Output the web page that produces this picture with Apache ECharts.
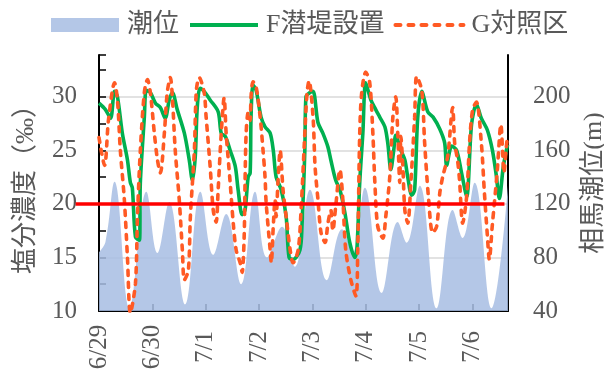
<!DOCTYPE html>
<html>
<head>
<meta charset="utf-8">
<script src="https://cdn.jsdelivr.net/npm/echarts@6/dist/echarts.min.js"></script>
<style>
  html, body { margin: 0; padding: 0; background: #ffffff; }
  #chart { width: 604px; height: 374px; }
</style>
</head>
<body>
<div id="chart"></div>
<script>
// Day labels placed at midnight of each day (x axis is in hours from 6/29 00:00)
const dayLabels = ['6/29', '6/30', '7/1', '7/2', '7/3', '7/4', '7/5', '7/6'];

// Soma tide level [hour, level]
const tideReadings = [
  [0, 84], [2.9, 91.6], [7.0, 136.5], [13.7, 42], [21.3, 129],
  [26.3, 83.4], [31.6, 121.5], [38.8, 45], [45.6, 129],
  [51.4, 82], [57.2, 112.5], [64.0, 60], [70.2, 129],
  [75.6, 80], [82.4, 103], [88.2, 73], [94.9, 130.5],
  [102.5, 63], [109.3, 101], [114.2, 84], [119.6, 132],
  [127.2, 53.5], [134.4, 106.5], [138.4, 91], [144.3, 133.5],
  [151.9, 42], [159.1, 115.5], [163.6, 94.6], [169.0, 135.7],
  [176.6, 42], [184, 133.5]
];

// Salinity with submerged breakwater (F) [hour, ‰]
const fReadings = [
  [0, 29.4], [2.9, 28.8], [5.2, 28.0], [7.0, 30.5], [8.3, 30.0], [10.5, 26.6],
  [12.8, 24.1], [14.1, 22.0], [15.0, 21.5], [16.4, 16.9], [18.2, 16.6], [18.6, 22.0],
  [20.4, 28.1], [21.3, 30.6], [23.1, 30.4],
  [25.4, 29.4], [27.6, 29.0], [29.8, 28.0], [31.6, 29.7], [33.0, 30.4], [35.2, 28.8],
  [38.4, 26.6], [40.6, 24.1], [42.0, 22.2], [43.3, 24.4], [44.2, 29.0], [45.5, 30.8],
  [47.3, 30.5],
  [50.0, 29.7], [53.6, 28.6], [55.0, 26.6], [56.8, 26.3], [59.0, 25.0], [61.3, 23.5],
  [62.6, 21.3], [64.4, 19.0], [65.7, 19.4], [67.1, 22.5], [68.0, 22.9], [68.4, 28.1],
  [69.3, 31.1], [70.7, 30.6],
  [72.9, 28.1], [74.7, 27.2], [77.0, 26.6], [78.4, 25.0], [79.7, 22.5], [82.0, 21.3],
  [84.2, 18.8], [85.5, 15.0], [87.3, 14.8], [90.4, 15.7], [91.3, 17.9], [92.6, 25.0],
  [93.1, 30.0], [94.9, 30.4],
  [96.3, 30.5], [98.5, 27.6], [100.7, 26.6], [103.0, 25.3], [104.3, 24.1], [106.5, 22.2],
  [108.4, 21.3], [110.6, 19.2], [112.8, 16.4], [115.1, 15.0], [116.0, 15.7], [117.3, 22.0],
  [118.7, 26.6],
  [120.0, 31.3], [122.3, 29.7], [124.5, 28.8], [126.3, 28.1], [128.6, 27.2], [129.9, 25.7],
  [131.3, 23.2], [132.6, 25.0], [133.5, 26.4], [135.8, 25.0], [137.6, 24.1], [138.9, 22.5],
  [140.7, 20.8], [142.0, 21.3], [143.4, 28.1],
  [145.2, 30.5], [147.9, 28.6], [150.3, 28.1], [153.3, 27.0], [155.5, 25.7], [156.4, 23.6],
  [158.7, 25.4], [160.9, 25.0], [163.1, 22.9], [165.4, 20.7], [167.6, 27.4],
  [169.8, 29.3], [172.0, 28.0], [174.7, 26.9], [177.0, 25.0], [178.7, 22.7], [180.1, 20.5],
  [181.9, 23.5], [183.8, 25.5]
];

// Salinity at the control site (G) [hour, ‰]
const gReadings = [
  [0, 26.2], [2.5, 23.6], [4.3, 27.9], [7.0, 31.3], [8.3, 29.7], [9.6, 25.0],
  [11.4, 20.4], [12.8, 15.0], [14.1, 9.8], [16.4, 12.6], [17.3, 18.8], [18.6, 25.0],
  [20.4, 30.4], [21.8, 31.6], [23.1, 30.4],
  [24.9, 26.6], [26.3, 24.1], [27.6, 22.9], [29.4, 26.6], [30.7, 30.4], [32.1, 31.8],
  [33.0, 30.0], [34.3, 25.0], [36.1, 20.4], [37.5, 15.7], [38.4, 12.9], [40.2, 13.8],
  [41.1, 18.8], [42.9, 25.0], [43.8, 30.6], [45.1, 31.8], [47.3, 30.4],
  [48.2, 28.1], [50.0, 23.5], [51.4, 19.4], [52.7, 18.3], [53.6, 21.3], [55.0, 26.6],
  [56.3, 29.9], [57.2, 26.6], [59.0, 22.0], [60.4, 18.2], [61.7, 15.7], [63.5, 14.5],
  [64.4, 13.6], [65.3, 16.9], [65.7, 22.0], [66.2, 26.6], [67.1, 28.5], [68.0, 27.8],
  [68.4, 30.0], [69.3, 31.4], [70.7, 30.9],
  [72.5, 28.1], [73.8, 25.0], [74.7, 22.5], [75.2, 20.1], [77.0, 15.7], [77.5, 14.5],
  [78.4, 17.9], [79.2, 20.4], [79.7, 18.8], [80.5, 22.0], [81.5, 25.0], [82.8, 21.3],
  [84.2, 18.8], [86.0, 15.7], [87.3, 14.5], [89.6, 15.7], [90.9, 19.4], [92.6, 26.6],
  [93.6, 30.4], [94.5, 31.5],
  [96.3, 28.1], [97.2, 23.5], [98.5, 20.4], [99.9, 17.3], [101.7, 16.4], [103.0, 18.2],
  [104.3, 19.4], [105.2, 17.5], [106.5, 19.8], [108.4, 23.2], [109.7, 20.4], [111.0, 15.7],
  [113.3, 12.9], [115.6, 11.4], [116.4, 15.7], [117.3, 26.6], [118.2, 30.4],
  [120.0, 32.3], [121.8, 31.3], [123.2, 26.6], [124.1, 22.0], [125.4, 17.9], [127.7, 16.8],
  [129.0, 18.8], [130.8, 22.5], [132.2, 28.1], [133.5, 30.0], [134.4, 26.6], [135.3, 22.0],
  [135.8, 26.3], [136.7, 23.5], [137.6, 19.4], [138.9, 18.2], [140.3, 22.0], [142.0, 28.1],
  [142.9, 31.9],
  [145.2, 30.6], [146.5, 25.7], [148.3, 20.4], [150.1, 17.3], [151.9, 17.9], [153.3, 21.0],
  [154.6, 22.5], [156.9, 24.5], [159.1, 29.0], [160.0, 25.7], [161.3, 24.1], [162.2, 22.2],
  [163.6, 18.2], [165.4, 20.7], [166.7, 25.7],
  [168.1, 28.8], [169.8, 29.5], [172.0, 25.7], [173.4, 21.0], [174.7, 17.1], [175.6, 14.8],
  [176.9, 17.9], [179.1, 22.9], [180.8, 27.4], [182.2, 22.9], [183.1, 25.0], [183.6, 26.0]
];

// 20‰ reference level and the hour span it is drawn over
const thresholdSalinity = 20;
const thresholdSpan = [-10.5, 182.4];

const seriesNames = ['潮位', 'F潜堤設置', 'G対照区'];

const TEXT = '#595959';
const FONT = '"Liberation Serif", "Times New Roman", "Noto Sans CJK JP", serif';
const GREEN = '#00b050';
const ORANGE = '#ff5a24';

const chart = echarts.init(document.getElementById('chart'), null, { renderer: 'canvas' });

chart.setOption({
  animation: false,
  backgroundColor: '#ffffff',
  textStyle: { fontFamily: FONT, color: TEXT },
  grid: { left: 99, right: 96, top: 55, bottom: 63, containLabel: false, outerBoundsMode: 'none' },
  legend: {
    top: 7,
    left: 46,
    itemWidth: 68,
    itemHeight: 14,
    itemGap: 9,
    textStyle: { fontFamily: FONT, fontSize: 26, color: TEXT, padding: [0, 0, 0, 3] },
    data: [
      { name: seriesNames[0], icon: 'rect', itemStyle: { color: '#b4c7e7' } },
      { name: seriesNames[1], itemStyle: { opacity: 0 }, lineStyle: { width: 4, color: GREEN } },
      { name: seriesNames[2], itemStyle: { opacity: 0 }, lineStyle: { width: 4, color: ORANGE, type: [5, 8], cap: 'round' } }
    ]
  },
  xAxis: {
    type: 'value',
    min: 0,
    max: 184,
    interval: 24,
    axisLine: { show: true, onZero: false, lineStyle: { color: '#000', width: 2 } },
    axisTick: { show: true, inside: true, length: 7, lineStyle: { color: '#000', width: 1.5 } },
    axisLabel: {
      rotate: 90,
      align: 'center',
      verticalAlign: 'middle',
      margin: 36,
      fontSize: 25,
      fontFamily: FONT,
      color: TEXT,
      showMaxLabel: false,
      formatter: v => (v % 24 === 0 ? dayLabels[v / 24] : '')
    },
    splitLine: { show: false }
  },
  yAxis: [
    {
      type: 'value',
      position: 'left',
      min: 10,
      max: 33.9,
      interval: 5,
      name: '塩分濃度（‰）',
      nameLocation: 'middle',
      nameRotate: 90,
      nameGap: 60,
      nameTextStyle: { fontFamily: FONT, fontSize: 26, color: TEXT },
      axisLine: { show: true, lineStyle: { color: '#000', width: 2 } },
      axisTick: { show: true, inside: true, length: 7, lineStyle: { color: '#000', width: 1.5 } },
      minorTick: { show: true, splitNumber: 2, length: 7, lineStyle: { color: '#000', width: 1.5 } },
      axisLabel: {
        margin: 22,
        fontSize: 25,
        fontFamily: FONT,
        color: TEXT,
        showMaxLabel: false,
        formatter: v => (v % 5 === 0 ? String(v) : '')
      },
      splitLine: { show: true, showMinLine: false, showMaxLine: false, lineStyle: { color: '#d9d9d9', width: 1.5 } }
    },
    {
      type: 'value',
      position: 'right',
      min: 40,
      max: 231.2,
      interval: 40,
      name: '相馬潮位(m)',
      nameLocation: 'middle',
      nameRotate: 90,
      nameGap: 66,
      nameTextStyle: { fontFamily: FONT, fontSize: 26, color: TEXT },
      axisLine: { show: true, lineStyle: { color: '#000', width: 2 } },
      axisTick: { show: false },
      axisLabel: {
        margin: 25,
        fontSize: 25,
        fontFamily: FONT,
        color: TEXT,
        showMaxLabel: false,
        formatter: v => (v % 40 === 0 ? String(v) : '')
      },
      splitLine: { show: false }
    }
  ],
  series: [
    {
      name: seriesNames[0],
      type: 'line',
      yAxisIndex: 1,
      data: tideReadings,
      smooth: 0.4,
      symbol: 'none',
      itemStyle: { color: '#b4c7e7' },
      lineStyle: { width: 0 },
      areaStyle: { color: '#a7bde3', opacity: 0.85 },
      z: 1
    },
    {
      name: seriesNames[1],
      type: 'line',
      yAxisIndex: 0,
      data: fReadings,
      smooth: 0.3,
      symbol: 'none',
      itemStyle: { color: GREEN },
      lineStyle: { color: GREEN, width: 3.6 },
      z: 3
    },
    {
      name: seriesNames[2],
      type: 'line',
      yAxisIndex: 0,
      data: gReadings,
      smooth: 0.3,
      symbol: 'none',
      itemStyle: { color: ORANGE },
      lineStyle: { color: ORANGE, width: 3.6, type: [5, 7], cap: 'round' },
      z: 4
    }
  ]
});

// 20‰ reference line: it runs out past the left axis, so it is placed with the
// chart's own axis scales (hours → px) rather than as a clipped series.
const yRef = chart.convertToPixel({ yAxisIndex: 0 }, thresholdSalinity);
const xAt0 = chart.convertToPixel({ xAxisIndex: 0 }, 0);
const xAt24 = chart.convertToPixel({ xAxisIndex: 0 }, 24);
const pxPerHour = (xAt24 - xAt0) / 24;
const refX = thresholdSpan.map(h => xAt0 + h * pxPerHour);

chart.setOption({
  graphic: [{
    type: 'line',
    silent: true,
    z: 10,
    shape: { x1: refX[0], y1: yRef, x2: refX[1], y2: yRef },
    style: { stroke: '#ff0000', lineWidth: 3.5 }
  }]
});
</script>
</body>
</html>
